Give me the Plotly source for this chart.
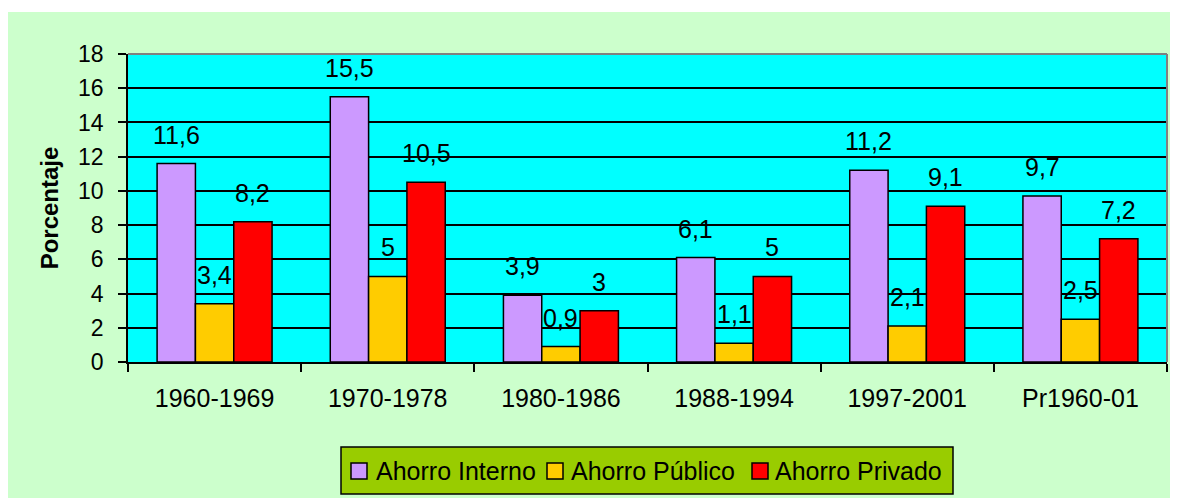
import plotly.graph_objects as go

categories = ["1960-1969", "1970-1978", "1980-1986", "1988-1994", "1997-2001", "Pr1960-01"]
ahorro_interno = [11.6, 15.5, 3.9, 6.1, 11.2, 9.7]
ahorro_publico = [3.4, 5, 0.9, 1.1, 2.1, 2.5]
ahorro_privado = [8.2, 10.5, 3, 5, 9.1, 7.2]
series_names = ["Ahorro Interno", "Ahorro Público", "Ahorro Privado"]
y_ticks = [0, 2, 4, 6, 8, 10, 12, 14, 16, 18]

colors = ["#CC99FF", "#FFCC00", "#FF0000"]
FONT = "Arial, Liberation Sans, sans-serif"

# page offset of the figure (browser body margin)
OFF = 8
W, H = 1170, 490
L, T = 120, 46
pw, ph = 1039, 308
R = W - L - pw
B = H - T - ph


def px2x(page_x):
    return (page_x - OFF - L) / pw


def px2y(page_y):
    return (T + ph - (page_y - OFF)) / ph


def fmt(v):
    return ("%g" % v).replace(".", ",")


fig = go.Figure()
all_series = [ahorro_interno, ahorro_publico, ahorro_privado]
for name, vals, col in zip(series_names, all_series, colors):
    fig.add_trace(go.Bar(
        x=categories, y=vals, name=name, showlegend=False,
        marker=dict(color=col, line=dict(color="black", width=1.5)),
        hoverinfo="skip",
    ))

bargap = 0.336
bar_px = pw / len(categories) * (1 - bargap) / 3
annotations = []
for i, vals in enumerate(all_series):
    for c, v in zip(categories, vals):
        annotations.append(dict(
            x=c, y=v, xref="x", yref="y", text=fmt(v), showarrow=False,
            xshift=(i - 1) * bar_px, yshift=29,
            font=dict(family=FONT, size=25, color="black"),
        ))

shapes = [
    # thin white strip on top of the picture
    dict(type="rect", xref="paper", yref="paper",
         x0=px2x(0), x1=px2x(1200), y0=px2y(12), y1=px2y(0),
         fillcolor="white", line=dict(width=0), layer="below"),
    # gray border top & right of plot area
    dict(type="line", xref="paper", yref="paper", x0=0, x1=1, y0=1, y1=1,
         line=dict(color="#808080", width=2)),
    dict(type="line", xref="paper", yref="paper", x0=1, x1=1, y0=0, y1=1,
         line=dict(color="#808080", width=2)),
    # legend box
    dict(type="rect", xref="paper", yref="paper",
         x0=px2x(341), x1=px2x(953), y0=px2y(494), y1=px2y(447),
         fillcolor="#99CC00", line=dict(color="black", width=1.5)),
]

# custom legend entries (symbol square + label)
legend_sq_x = [351, 547, 752]
legend_tx_x = [375, 570, 774]
for name, col, sx, tx in zip(series_names, colors, legend_sq_x, legend_tx_x):
    shapes.append(dict(type="rect", xref="paper", yref="paper",
                       x0=px2x(sx), x1=px2x(sx + 16), y0=px2y(479), y1=px2y(463),
                       fillcolor=col, line=dict(color="black", width=1.5)))
    annotations.append(dict(
        x=px2x(tx - 1), y=px2y(471), xref="paper", yref="paper", text=name,
        showarrow=False, xanchor="left", yanchor="middle",
        font=dict(family=FONT, size=25, color="black"),
    ))

fig.update_layout(
    width=W, height=H,
    margin=dict(l=L, r=R, t=T, b=B),
    paper_bgcolor="#CCFFCC",
    plot_bgcolor="#00FFFF",
    barmode="group", bargap=bargap, bargroupgap=0,
    font=dict(family=FONT, size=24, color="black"),
    showlegend=False,
    annotations=annotations,
    shapes=shapes,
)

fig.update_xaxes(
    type="category", showline=True, linecolor="black", linewidth=1.5,
    ticks="outside", tickson="boundaries", ticklen=8, tickcolor="black", tickwidth=1.5,
    ticklabelstandoff=13, showgrid=False,
    tickfont=dict(family=FONT, size=25, color="black"),
)
fig.update_yaxes(
    range=[0, 18], tickvals=y_ticks, showline=True, linecolor="black", linewidth=1.5,
    ticks="outside", ticklen=8, tickcolor="black", tickwidth=1.5,
    ticklabelstandoff=10,
    showgrid=True, gridcolor="black", gridwidth=1.5, zeroline=False,
    tickfont=dict(family=FONT, size=23, color="black"),
    title=dict(text="<b>Porcentaje</b>", standoff=13,
               font=dict(family=FONT, size=24, color="black")),
)

fig.write_html("out.html")
